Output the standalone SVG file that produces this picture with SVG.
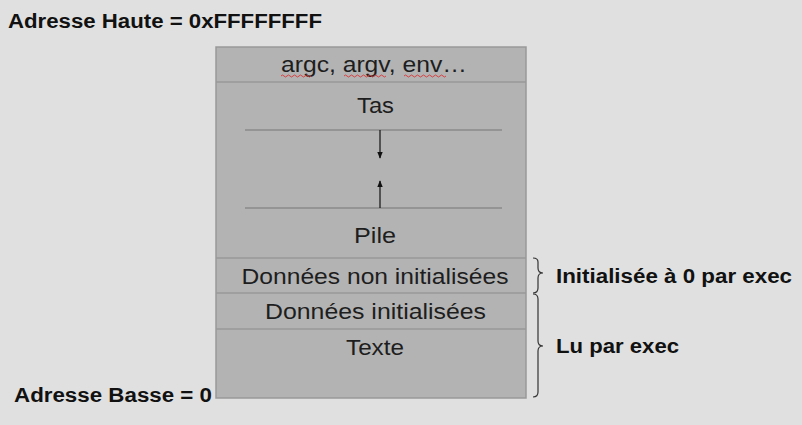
<svg xmlns="http://www.w3.org/2000/svg" width="802" height="425" viewBox="0 0 802 425">
<defs>
<style>
.lbl{font-family:"Liberation Sans",Arial,sans-serif;font-size:22px;fill:#1e1e1e;text-anchor:middle}
.side{font-family:"Liberation Sans",Arial,sans-serif;font-size:20px;font-weight:bold;fill:#111}
.sep{stroke:#999;stroke-width:1.5}
.brace{fill:none;stroke:#333;stroke-width:1.2}
.wave{fill:none;stroke:#d33;stroke-width:0.9}
</style>
<marker id="ah" viewBox="0 0 10 10" refX="9" refY="5" markerWidth="6" markerHeight="6" orient="auto">
<path d="M0,1 L10,5 L0,9 z" fill="#111"/>
</marker>
</defs>
<rect x="0" y="0" width="802" height="425" fill="#e0e0e0"/>
<text class="side" x="8" y="28" textLength="314" lengthAdjust="spacingAndGlyphs">Adresse Haute = 0xFFFFFFFF</text>
<text class="side" x="14" y="402" textLength="198" lengthAdjust="spacingAndGlyphs">Adresse Basse = 0</text>
<g id="memory">
<rect x="216" y="47" width="310" height="351" fill="#b3b3b3" stroke="#999" stroke-width="1.5"/>
</g>
<g id="args">
<line class="sep" x1="216" y1="82" x2="526" y2="82"/>
<text class="lbl" x="374" y="72" textLength="186" lengthAdjust="spacingAndGlyphs">argc, argv, env…</text>
<path class="wave" d="M281,76 q1.5,-2 3,0 t3,0 t3,0 t3,0 t3,0 t3,0 t3,0 t3,0 t3,0 t3,0"/>
<path class="wave" d="M344,76 q1.5,-2 3,0 t3,0 t3,0 t3,0 t3,0 t3,0 t3,0 t3,0 t3,0 t3,0 t3,0 t3,0 t3,0 t3,0"/>
<path class="wave" d="M404,76 q1.5,-2 3,0 t3,0 t3,0 t3,0 t3,0 t3,0 t3,0 t3,0 t3,0 t3,0 t3,0 t3,0 t3,0 t3,0"/>
</g>
<g id="tas">
<text class="lbl" x="375.5" y="113" textLength="37" lengthAdjust="spacingAndGlyphs">Tas</text>
<line x1="245" y1="130" x2="502" y2="130" stroke="#777" stroke-width="1.2"/>
</g>
<g id="pile">
<line x1="245" y1="208" x2="502" y2="208" stroke="#777" stroke-width="1.2"/>
<text class="lbl" x="375" y="243" textLength="42" lengthAdjust="spacingAndGlyphs">Pile</text>
<line class="sep" x1="216" y1="258" x2="526" y2="258"/>
</g>
<g id="bss">
<text class="lbl" x="375" y="284" textLength="267" lengthAdjust="spacingAndGlyphs">Données non initialisées</text>
<line class="sep" x1="216" y1="293" x2="526" y2="293"/>
</g>
<g id="data">
<text class="lbl" x="375.5" y="319" textLength="221" lengthAdjust="spacingAndGlyphs">Données initialisées</text>
<line class="sep" x1="216" y1="329" x2="526" y2="329"/>
</g>
<g id="text">
<text class="lbl" x="375" y="355" textLength="58" lengthAdjust="spacingAndGlyphs">Texte</text>
</g>
<g id="connectors">
<line x1="380" y1="130" x2="380" y2="158" stroke="#111" stroke-width="1.2" marker-end="url(#ah)"/>
<line x1="380" y1="208" x2="380" y2="181" stroke="#111" stroke-width="1.2" marker-end="url(#ah)"/>
<path class="brace" d="M533,258 q5,0 5,4 v6 q0,5 5,5 q-5,0 -5,5 v10 q0,5 -5,5"/>
<path class="brace" d="M533,294 q5,0 5,5 v42 q0,5 5,5 q-5,0 -5,5 v41 q0,5 -5,5"/>
</g>
<g id="notes">
<text class="side" x="556" y="283" textLength="236" lengthAdjust="spacingAndGlyphs">Initialisée à 0 par exec</text>
<text class="side" x="556" y="353" textLength="123" lengthAdjust="spacingAndGlyphs">Lu par exec</text>
</g>
</svg>
